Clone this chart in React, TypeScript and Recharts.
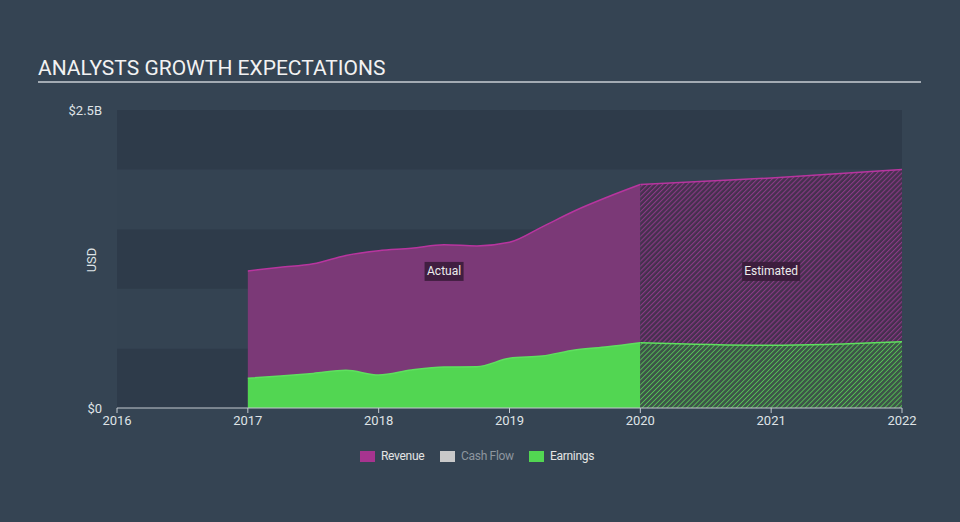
import React from 'react';
import {
  ComposedChart,
  Area,
  XAxis,
  YAxis,
  ReferenceArea,
  ReferenceDot,
} from 'recharts';

// quarter points for actuals, then yearly analyst estimates (USD billions)
const periods = [
  2017, 2017.25, 2017.5, 2017.75, 2018, 2018.25, 2018.5, 2018.75, 2019, 2019.25, 2019.5,
  2019.75, 2020, 2021, 2022,
];
const revenueActual = [
  1.15, 1.18, 1.21, 1.28, 1.32, 1.34, 1.37, 1.36, 1.39, 1.52, 1.655, 1.77, 1.875, null, null,
];
const revenueEstimate = [
  null, null, null, null, null, null, null, null, null, null, null, null, 1.875, 1.93, 2.0,
];
const earningsActual = [
  0.25, 0.268, 0.29, 0.316, 0.277, 0.319, 0.344, 0.346, 0.417, 0.436, 0.487, 0.514, 0.548,
  null, null,
];
const earningsEstimate = [
  null, null, null, null, null, null, null, null, null, null, null, null, 0.548, 0.526, 0.556,
];

const xTicks = [2016, 2017, 2018, 2019, 2020, 2021, 2022];
const yTicks = [0, 2.5];
const bands = [
  { from: 0, to: 0.5, dark: true },
  { from: 0.5, to: 1, dark: false },
  { from: 1, to: 1.5, dark: true },
  { from: 1.5, to: 2, dark: false },
  { from: 2, to: 2.5, dark: true },
];
const legendItems = [
  { label: 'Revenue', color: '#a7348f', muted: false, width: 80 },
  { label: 'Cash Flow', color: '#c9c9c9', muted: true, width: 89 },
  { label: 'Earnings', color: '#52d652', muted: false, width: 70 },
];

const chartData = periods.map((x, i) => ({
  x,
  revenueActual: revenueActual[i],
  revenueEstimate: revenueEstimate[i],
  earningsActual: earningsActual[i],
  earningsEstimate: earningsEstimate[i],
}));

const BG = '#354453';
const FONT = 'Roboto, "Noto Sans", sans-serif';

function formatUsd(v: number): string {
  return v === 0 ? '$0' : `$${v}B`;
}

function PeriodLabel({ cx, cy, text, width }: { cx?: number; cy?: number; text: string; width: number }) {
  if (cx == null || cy == null) return null;
  return (
    <g>
      <rect x={cx - width / 2} y={cy - 9} width={width} height={19} fill="#3a1c3a" opacity={0.9} />
      <text
        x={cx}
        y={cy + 4.5}
        textAnchor="middle"
        fontSize={12}
        fill="#ececec"
        fontFamily={FONT}
      >
        {text}
      </text>
    </g>
  );
}

function LegendItem({
  color,
  label,
  muted,
  width,
}: {
  color: string;
  label: string;
  muted?: boolean;
  width: number;
}) {
  return (
    <div style={{ display: 'flex', alignItems: 'center', width }}>
      <div style={{ width: 15, height: 11, background: color, marginRight: 6 }} />
      <span style={{ fontSize: 12, letterSpacing: -0.3, color: muted ? '#8d969f' : '#e4e4e4' }}>
        {label}
      </span>
    </div>
  );
}

export default function App() {
  return (
    <div
      style={{
        position: 'relative',
        width: 960,
        height: 522,
        background: BG,
        fontFamily: FONT,
        overflow: 'hidden',
      }}
    >
      <style>{'body{margin:0}'}</style>

      <div
        style={{
          position: 'absolute',
          left: 38,
          top: 56,
          fontSize: 21,
          color: '#f2f2f2',
        }}
      >
        ANALYSTS GROWTH EXPECTATIONS
      </div>
      <div
        style={{
          position: 'absolute',
          left: 38,
          top: 81,
          width: 883,
          height: 2,
          background: '#a3abb3',
        }}
      />

      <div
        style={{
          position: 'absolute',
          left: 91,
          top: 260,
          transform: 'translate(-50%, -50%) rotate(-90deg)',
          fontSize: 13,
          color: '#dfe3e6',
        }}
      >
        USD
      </div>

      <ComposedChart
        width={960}
        height={522}
        data={chartData}
        margin={{ top: 110, right: 58, left: 0, bottom: 84 }}
        style={{ position: 'absolute', left: 0, top: 0 }}
      >
        <defs>
          <pattern
            id="hatchRevenue"
            width="3.5"
            height="3.5"
            patternUnits="userSpaceOnUse"
            patternTransform="rotate(45)"
          >
            <rect width="3.5" height="3.5" fill="#45304e" />
            <line x1="0" y1="0" x2="0" y2="3.5" stroke="#8a3a86" strokeWidth="2.2" />
          </pattern>
          <pattern
            id="hatchEarnings"
            width="3.5"
            height="3.5"
            patternUnits="userSpaceOnUse"
            patternTransform="rotate(45)"
          >
            <rect width="3.5" height="3.5" fill="#3d5548" />
            <line x1="0" y1="0" x2="0" y2="3.5" stroke="#57c957" strokeWidth="1.6" />
          </pattern>
        </defs>

        {bands.map((b) => (
          <ReferenceArea
            key={b.from}
            y1={b.from}
            y2={b.to}
            fill={b.dark ? '#2e3b4a' : '#344352'}
            fillOpacity={1}
            stroke="none"
          />
        ))}

        <XAxis
          type="number"
          dataKey="x"
          domain={[2016, 2022]}
          ticks={xTicks}
          height={30}
          tick={{ fontSize: 13, fill: '#dfe3e6', fontFamily: FONT }}
          tickSize={5}
          tickMargin={3}
          axisLine={{ stroke: '#c4cad0' }}
          tickLine={{ stroke: '#c4cad0' }}
        />
        <YAxis
          type="number"
          domain={[0, 2.5]}
          ticks={yTicks}
          width={117}
          axisLine={false}
          tickLine={false}
          tickSize={0}
          tickMargin={15}
          tickFormatter={formatUsd}
          tick={{ fontSize: 13, fill: '#dfe3e6', fontFamily: FONT }}
        />

        <Area
          type="monotone"
          dataKey="revenueActual"
          fill="#7b3977"
          fillOpacity={1}
          stroke="#b8359f"
          strokeWidth={1.5}
          isAnimationActive={false}
        />
        <Area
          type="monotone"
          dataKey="revenueEstimate"
          fill="url(#hatchRevenue)"
          fillOpacity={1}
          stroke="#b8359f"
          strokeWidth={1.5}
          isAnimationActive={false}
        />
        <Area
          type="monotone"
          dataKey="earningsActual"
          fill="#52d652"
          fillOpacity={1}
          stroke="#5fe05f"
          strokeWidth={1.5}
          isAnimationActive={false}
        />
        <Area
          type="monotone"
          dataKey="earningsEstimate"
          fill="url(#hatchEarnings)"
          fillOpacity={1}
          stroke="#5fe05f"
          strokeWidth={1.5}
          isAnimationActive={false}
        />

        <ReferenceDot
          x={2018.5}
          y={1.15}
          r={0}
          shape={(p: any) => <PeriodLabel cx={p.cx} cy={p.cy} text="Actual" width={39} />}
        />
        <ReferenceDot
          x={2021}
          y={1.15}
          r={0}
          shape={(p: any) => <PeriodLabel cx={p.cx} cy={p.cy} text="Estimated" width={58} />}
        />
      </ComposedChart>

      <div
        style={{
          position: 'absolute',
          left: 360,
          top: 449,
          display: 'flex',
          alignItems: 'center',
        }}
      >
        {legendItems.map((item) => (
          <LegendItem
            key={item.label}
            color={item.color}
            label={item.label}
            muted={item.muted}
            width={item.width}
          />
        ))}
      </div>
    </div>
  );
}
